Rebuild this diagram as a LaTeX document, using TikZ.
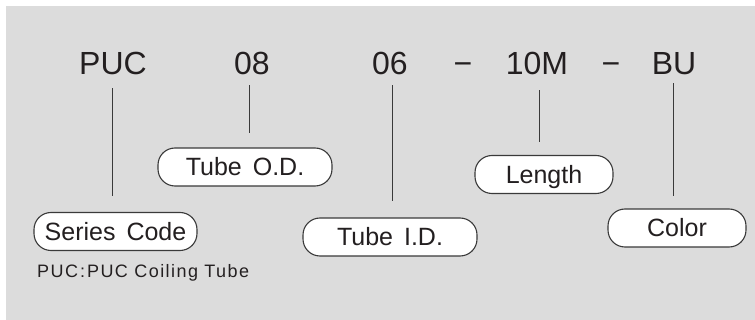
\documentclass[tikz,border=0pt]{standalone}
\usepackage{fontspec}
\setmainfont{Liberation Sans}
\definecolor{bggray}{HTML}{DCDCDC}
\definecolor{inkc}{HTML}{231F20}
\definecolor{linec}{HTML}{3A3A3A}
\newcommand\mylblfont{\fontsize{25}{28}\selectfont\spaceskip=11pt\relax}
\begin{document}
\begin{tikzpicture}[x=1pt,y=-1pt,
  code/.style={anchor=base,inner sep=0pt,text depth=0pt,text=inkc,font=\fontsize{32}{36}\selectfont},
  lbl/.style={draw=linec,line width=1.1pt,fill=white,rounded corners=17pt,inner sep=0pt,
    minimum height=38pt,text height=18pt,text depth=0pt,text=inkc,font=\mylblfont},
  conn/.style={draw=linec,line width=1pt}]
\useasboundingbox (0,0) rectangle (755,320);
\fill[bggray] (6,6) rectangle (755,320);
% codes
\node[code] (puc) at (113,75) {PUC};
\node[code] (c08) at (252,75) {08};
\node[code] (c06) at (390,75) {06};
\node[code] (d1) at (463,75) {−};
\node[code] (c10) at (537,75) {10M};
\node[code] (d2) at (611,75) {−};
\node[code] (bu) at (674,75) {BU};
% labels
\node[lbl,minimum width=163pt] (sc) at (115.5,231.5) {Series Code};
\node[lbl,minimum width=174pt] (od) at (245,167) {Tube O.D.};
\node[lbl,minimum width=174pt] (id) at (390,237) {Tube I.D.};
\node[lbl,minimum width=138pt] (len) at (544,174.5) {Length};
\node[lbl,minimum width=138pt] (col) at (677,228) {Color};
% connectors
\draw[conn,shorten <=13pt,shorten >=16pt] ([xshift=-1pt]puc.south) -- ([xshift=-1pt]puc.south |- sc.north);
\draw[conn,shorten <=10pt,shorten >=14pt] ([xshift=-3pt]c08.south) -- ([xshift=-3pt]c08.south |- od.north);
\draw[conn,shorten <=10pt,shorten >=16pt] ([xshift=2pt]c06.south) -- ([xshift=2pt]c06.south |- id.north);
\draw[conn,shorten <=15pt,shorten >=13pt] ([xshift=2pt]c10.south) -- ([xshift=2pt]c10.south |- len.north);
\draw[conn,shorten <=8pt,shorten >=12pt] ([xshift=-1pt]bu.south) -- ([xshift=-1pt]bu.south |- col.north);
% note
\node[anchor=base west,inner sep=0pt,text=inkc,font=\fontsize{18}{20}\selectfont\addfontfeature{LetterSpace=8}] (note) at (37,278) {PUC\kern2pt:\kern2pt PUC Coiling Tube};
\end{tikzpicture}
\end{document}
